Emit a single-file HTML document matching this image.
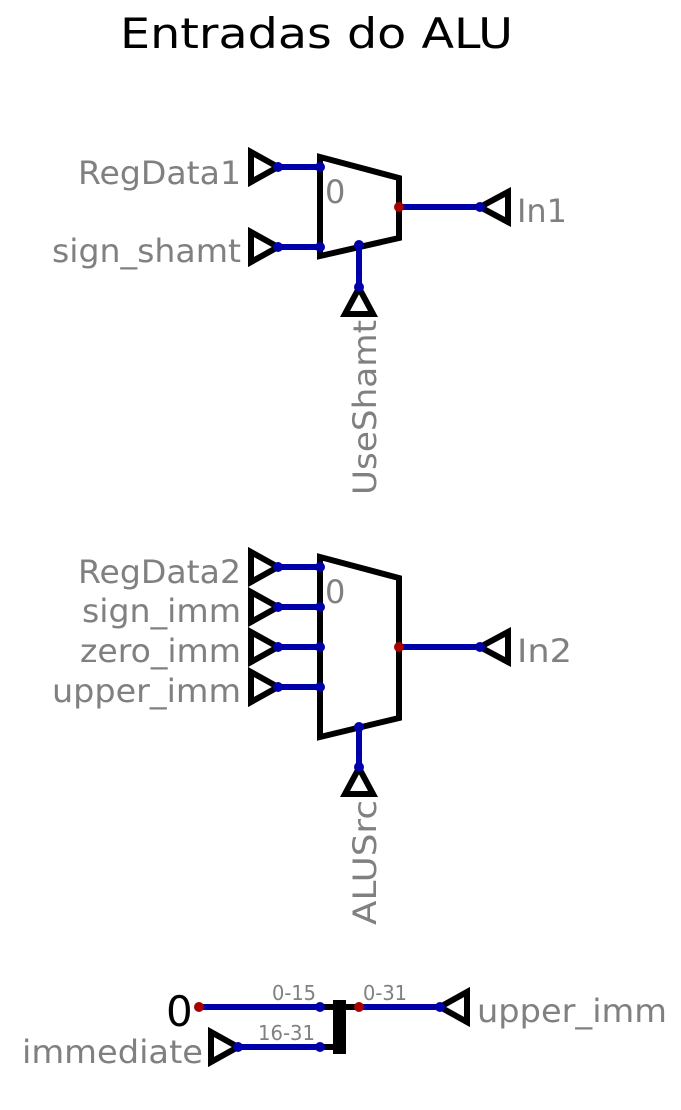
<!DOCTYPE html>
<html><head><meta charset="utf-8"><style>
html,body{margin:0;padding:0;background:#fff;}
svg{display:block;font-family:"DejaVu Sans","Liberation Sans",sans-serif;}
.l{fill:#808080;font-size:32px;}
.w{stroke:#0000aa;stroke-width:6;fill:none;}
.k{stroke:#000;stroke-width:6;fill:none;stroke-linejoin:miter;}
.b{fill:#0000aa;}
.r{fill:#aa0000;}
</style></head><body>
<svg width="681" height="1110" viewBox="0 0 681 1110">
<text x="120" y="48" font-size="42" fill="#000" textLength="393" lengthAdjust="spacingAndGlyphs">Entradas  do  ALU</text>

<!-- Mux 1 -->
<polygon class="k" points="320,157 399,178 399,238 320,256"/>
<text x="325" y="203" class="l">0</text>
<path class="w" d="M278,167H320M278,247H320M399,207H480M359,245V287"/>
<polygon class="k" points="251,152 278,167 251,182"/>
<polygon class="k" points="251,232 278,247 251,262"/>
<polygon class="k" points="480,207 508,192 508,222"/>
<polygon class="k" points="359,288 345,314 373,314"/>
<circle class="b" cx="278" cy="167" r="5"/><circle class="b" cx="320" cy="167" r="5"/>
<circle class="b" cx="278" cy="247" r="5"/><circle class="b" cx="320" cy="247" r="5"/>
<circle class="r" cx="399" cy="207" r="5"/><circle class="b" cx="480" cy="207" r="5"/>
<circle class="b" cx="359" cy="245" r="5"/><circle class="b" cx="359" cy="287" r="5"/>
<text x="78" y="184" class="l" textLength="163" lengthAdjust="spacingAndGlyphs">RegData1</text>
<text x="52" y="262" class="l" textLength="189" lengthAdjust="spacingAndGlyphs">sign_shamt</text>
<text x="517" y="222" class="l" textLength="50" lengthAdjust="spacingAndGlyphs">In1</text>
<text class="l" transform="translate(376,495) rotate(-90)" textLength="175" lengthAdjust="spacingAndGlyphs">UseShamt</text>

<!-- Mux 2 -->
<polygon class="k" points="320,557 399,578 399,718 320,737"/>
<text x="325" y="603" class="l">0</text>
<path class="w" d="M278,567H320M278,607H320M278,647H320M278,687H320M399,647H480M359,727V767"/>
<polygon class="k" points="251,552 278,567 251,582"/>
<polygon class="k" points="251,592 278,607 251,622"/>
<polygon class="k" points="251,632 278,647 251,662"/>
<polygon class="k" points="251,672 278,687 251,702"/>
<polygon class="k" points="480,647 508,632 508,662"/>
<polygon class="k" points="359,768 345,794 373,794"/>
<circle class="b" cx="278" cy="567" r="5"/><circle class="b" cx="320" cy="567" r="5"/>
<circle class="b" cx="278" cy="607" r="5"/><circle class="b" cx="320" cy="607" r="5"/>
<circle class="b" cx="278" cy="647" r="5"/><circle class="b" cx="320" cy="647" r="5"/>
<circle class="b" cx="278" cy="687" r="5"/><circle class="b" cx="320" cy="687" r="5"/>
<circle class="r" cx="399" cy="647" r="5"/><circle class="b" cx="480" cy="647" r="5"/>
<circle class="b" cx="359" cy="727" r="5"/><circle class="b" cx="359" cy="767" r="5"/>
<text x="78" y="583" class="l" textLength="163" lengthAdjust="spacingAndGlyphs">RegData2</text>
<text x="82" y="622" class="l" textLength="159" lengthAdjust="spacingAndGlyphs">sign_imm</text>
<text x="80" y="662" class="l" textLength="161" lengthAdjust="spacingAndGlyphs">zero_imm</text>
<text x="52" y="702" class="l" textLength="189" lengthAdjust="spacingAndGlyphs">upper_imm</text>
<text x="517" y="662" class="l" textLength="55" lengthAdjust="spacingAndGlyphs">In2</text>
<text class="l" transform="translate(376,925) rotate(-90)" textLength="125" lengthAdjust="spacingAndGlyphs">ALUSrc</text>

<!-- Splitter -->
<path class="w" d="M199,1007H320M238,1047H320M359,1007H440"/>
<path d="M320,1007H340M320,1047H340M340,1007H359" stroke="#000" stroke-width="6"/>
<rect x="333" y="1000" width="13" height="54" fill="#000"/>
<polygon class="k" points="211,1032 238,1047 211,1062"/>
<polygon class="k" points="440,1007 467,992 467,1022"/>
<circle class="r" cx="199" cy="1007" r="5"/><circle class="b" cx="320" cy="1007" r="5"/>
<circle class="b" cx="238" cy="1047" r="5"/><circle class="b" cx="320" cy="1047" r="5"/>
<circle class="r" cx="359" cy="1007" r="5"/><circle class="b" cx="440" cy="1007" r="5"/>
<text x="272" y="1000" fill="#808080" font-size="20" textLength="44" lengthAdjust="spacingAndGlyphs">0-15</text>
<text x="258" y="1040" fill="#808080" font-size="20" textLength="57" lengthAdjust="spacingAndGlyphs">16-31</text>
<text x="363" y="1000" fill="#808080" font-size="20" textLength="44" lengthAdjust="spacingAndGlyphs">0-31</text>
<text x="166" y="1026" font-size="42" fill="#000">0</text>
<text x="22" y="1063" class="l" textLength="181" lengthAdjust="spacingAndGlyphs">immediate</text>
<text x="477" y="1022" class="l" textLength="190" lengthAdjust="spacingAndGlyphs">upper_imm</text>
</svg>
</body></html>
